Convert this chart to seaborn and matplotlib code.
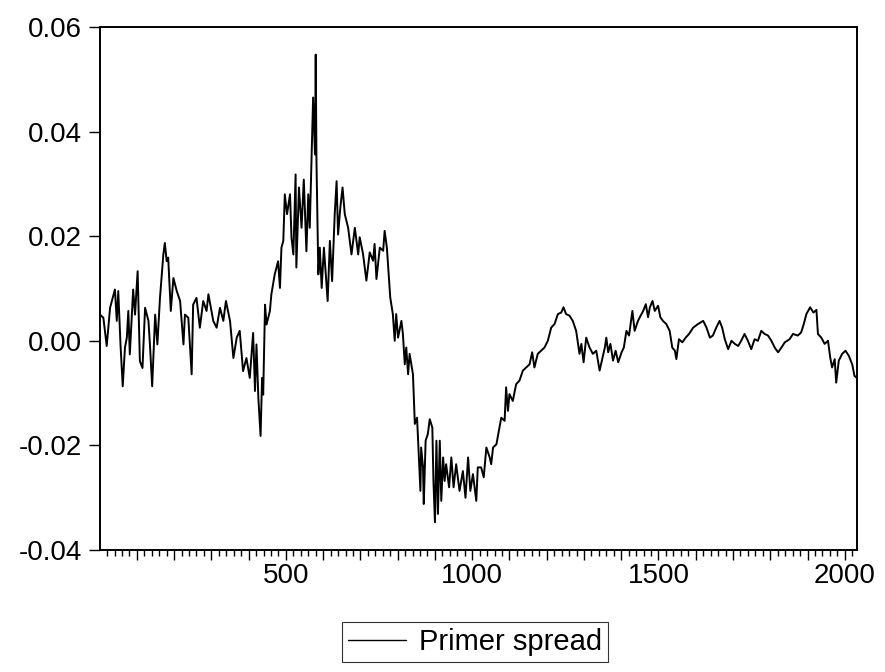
import matplotlib
matplotlib.use("Agg")
import matplotlib.pyplot as plt
import seaborn as sns
import pandas as pd
from matplotlib.ticker import FixedLocator, MultipleLocator, FuncFormatter

obs = [1, 10, 19, 28, 41, 46, 50, 56, 62, 68, 73, 77, 81, 90, 95, 102, 108, 115, 122, 131,
       135, 141, 149, 155, 162, 171, 175, 180, 184, 191, 198, 207, 216, 220, 225, 229, 238, 247, 251, 260,
       269, 278, 287, 292, 305, 314, 323, 332, 339, 350, 359, 368, 376, 385, 394, 403, 412, 417, 421, 426,
       432, 436, 439, 444, 448, 457, 461, 470, 479, 484, 488, 493, 497, 503, 511, 515, 520, 526, 528, 535,
       542, 548, 555, 560, 564, 569, 573, 578, 580, 582, 587, 591, 596, 602, 612, 618, 624, 631, 636, 640,
       646, 652, 658, 667, 676, 685, 694,
       698, 707, 716, 725, 734, 738, 743, 752, 761, 765, 771, 777, 780, 787, 792, 796, 801, 810, 814, 819,
       823, 828, 832, 841, 846, 852, 857, 861, 863, 868, 870, 875, 881, 886, 893, 896, 900, 904, 908, 913,
       917, 922, 926, 930, 938, 944, 950, 957, 966, 975, 982, 989, 995, 1002, 1011, 1015, 1024, 1031, 1038, 1047,
       1051, 1056, 1065, 1073, 1078, 1087, 1091, 1096, 1100, 1109, 1118, 1127, 1136, 1145, 1154, 1161, 1167, 1176, 1185, 1194,
       1203, 1212, 1221, 1230, 1239, 1245, 1252, 1261, 1270, 1279, 1288, 1293, 1299, 1306, 1315, 1324, 1333, 1342,
       1350, 1356, 1360, 1365, 1371, 1378, 1385, 1392, 1401, 1407, 1414, 1421, 1430, 1436, 1445, 1452, 1459, 1466, 1472, 1477,
       1484, 1490, 1499, 1505, 1512, 1521, 1530, 1537, 1544, 1548, 1555, 1564, 1573, 1582, 1593, 1606, 1620, 1629, 1638, 1646,
       1655, 1664, 1671, 1678, 1687, 1696, 1705, 1714, 1722, 1731, 1740, 1749, 1758, 1767, 1776, 1785, 1794, 1803, 1812, 1821,
       1830, 1839, 1852, 1861, 1874, 1883, 1890, 1897, 1907, 1916, 1924, 1928, 1937, 1946, 1955, 1961, 1966, 1973, 1977, 1984,
       1993, 2002, 2011, 2020, 2026, 2031]

spread = [0.0050, 0.0044, -0.0010, 0.0063, 0.0098, 0.0038, 0.0095, -0.0007, -0.0087, -0.0013, 0.0006, 0.0057, -0.0026, 0.0098, 0.0050, 0.0133, -0.0039, -0.0052, 0.0063, 0.0038,
          -0.0007, -0.0087, 0.0050, -0.0007, 0.0082, 0.0165, 0.0187, 0.0152, 0.0159, 0.0057, 0.0120, 0.0095, 0.0076, 0.0038, -0.0007, 0.0050, 0.0044, -0.0064, 0.0069, 0.0082,
          0.0025, 0.0076, 0.0057, 0.0089, 0.0038, 0.0025, 0.0063, 0.0038, 0.0076, 0.0038, -0.0033, 0.0006, 0.0019, -0.0058, -0.0033, -0.0071, 0.0015, -0.0096, -0.0007, -0.0109,
          -0.0182, -0.0071, -0.0103, 0.0069, 0.0031, 0.0057, 0.0089, 0.0127, 0.0152, 0.0101, 0.0178, 0.0191, 0.0280, 0.0242, 0.0280, 0.0197, 0.0165, 0.0318, 0.0140, 0.0293,
          0.0216, 0.0308, 0.0171, 0.0280, 0.0216, 0.0356, 0.0465, 0.0356, 0.0547, 0.0344, 0.0127, 0.0178, 0.0101, 0.0178, 0.0076, 0.0191, 0.0114, 0.0242, 0.0305, 0.0203,
          0.0254, 0.0293, 0.0242, 0.0216, 0.0165, 0.0216, 0.0165,
          0.0198, 0.0166, 0.0115, 0.0169, 0.0153, 0.0185, 0.0118, 0.0178, 0.0172, 0.0210, 0.0178, 0.0115, 0.0083, 0.0051, 0.0000, 0.0051, 0.0006, 0.0038, 0.0013, -0.0045,
          -0.0013, -0.0064, -0.0025, -0.0064, -0.0159, -0.0147, -0.0223, -0.0287, -0.0204, -0.0242, -0.0312, -0.0191, -0.0178, -0.0150, -0.0166, -0.0268, -0.0347, -0.0191, -0.0331, -0.0191,
          -0.0306, -0.0223, -0.0268, -0.0236, -0.0280, -0.0223, -0.0280, -0.0236, -0.0287, -0.0249, -0.0300, -0.0223, -0.0287, -0.0255, -0.0306, -0.0242, -0.0242, -0.0261, -0.0204, -0.0223,
          -0.0236, -0.0204, -0.0198, -0.0166, -0.0147, -0.0153, -0.0089, -0.0134, -0.0102, -0.0115, -0.0083, -0.0076, -0.0057, -0.0051, -0.0045, -0.0022, -0.0051, -0.0025, -0.0019, -0.0013,
          0.0000, 0.0025, 0.0032, 0.0051, 0.0054, 0.0064, 0.0051, 0.0048, 0.0038, 0.0019, -0.0025, -0.0006, -0.0041, 0.0006, -0.0013, -0.0025, -0.0019, -0.0057,
          -0.0032, -0.0013, 0.0006, -0.0022, -0.0006, -0.0038, -0.0019, -0.0041, -0.0022, -0.0013, 0.0019, 0.0010, 0.0057, 0.0019, 0.0038, 0.0048, 0.0057, 0.0070, 0.0045, 0.0064,
          0.0076, 0.0057, 0.0067, 0.0045, 0.0038, 0.0032, 0.0019, -0.0013, -0.0019, -0.0035, 0.0003, -0.0003, 0.0006, 0.0013, 0.0025, 0.0032, 0.0038, 0.0025, 0.0006, 0.0010,
          0.0025, 0.0038, 0.0025, 0.0003, -0.0016, 0.0000, -0.0006, -0.0010, 0.0000, 0.0013, 0.0000, -0.0016, 0.0003, 0.0000, 0.0019, 0.0013, 0.0010, 0.0000, -0.0013, -0.0022,
          -0.0013, -0.0003, 0.0003, 0.0013, 0.0010, 0.0016, 0.0032, 0.0051, 0.0064, 0.0054, 0.0059, 0.0013, 0.0006, -0.0006, 0.0000, -0.0032, -0.0051, -0.0035, -0.0080, -0.0038,
          -0.0025, -0.0019, -0.0029, -0.0045, -0.0067, -0.0070]

series_name = "Primer spread"
y_ticks = [-0.04, -0.02, 0.00, 0.02, 0.04, 0.06]
x_labels = [500, 1000, 1500, 2000]

df = pd.DataFrame({"obs": obs, "value": spread})

sns.set_theme(style="white")
plt.rcParams["font.family"] = ["Liberation Sans", "DejaVu Sans"]
plt.rcParams["axes.unicode_minus"] = False
plt.rcParams["text.color"] = "black"

fig = plt.figure(figsize=(8.85, 6.72), dpi=100)
ax = fig.add_axes([0.113, 0.1815, 0.855, 0.7785])

sns.lineplot(data=df, x="obs", y="value", ax=ax, color="black", linewidth=1.4,
             label=series_name, legend=False)

ax.set_xlim(1, 2032)
ax.set_ylim(-0.04, 0.06)
ax.set_xlabel("")
ax.set_ylabel("")

for s in ax.spines.values():
    s.set_color("black")
    s.set_linewidth(1.4)

ax.yaxis.set_major_locator(FixedLocator(y_ticks))
ax.yaxis.set_major_formatter(FuncFormatter(lambda v, p: f"{v:.2f}"))
ax.xaxis.set_major_locator(MultipleLocator(100))
ax.xaxis.set_minor_locator(MultipleLocator(20))
ax.xaxis.set_major_formatter(FuncFormatter(lambda v, p: f"{int(round(v))}" if int(round(v)) in x_labels else ""))

ax.tick_params(axis="y", which="major", direction="out", length=8, width=1.0,
               labelsize=20, pad=5, left=True, right=False, colors="black")
ax.tick_params(axis="x", which="major", direction="out", length=7, width=1.0,
               labelsize=20, pad=2, bottom=True, top=False, colors="black")
ax.tick_params(axis="x", which="minor", direction="out", length=4, width=1.0,
               bottom=True, top=False, colors="black")

handles = [plt.Line2D([], [], color="black", linewidth=1.0)]
leg = fig.legend(handles, [series_name], loc="center", bbox_to_anchor=(0.537, 0.045),
                 fontsize=21, frameon=True, fancybox=False, handlelength=2.0,
                 handletextpad=0.45, borderpad=0.2, borderaxespad=0)
leg.get_frame().set_edgecolor("black")
leg.get_frame().set_linewidth(0.8)
for t in leg.get_texts():
    t.set_color("black")

fig.savefig("out.png", dpi=100, facecolor="white")
